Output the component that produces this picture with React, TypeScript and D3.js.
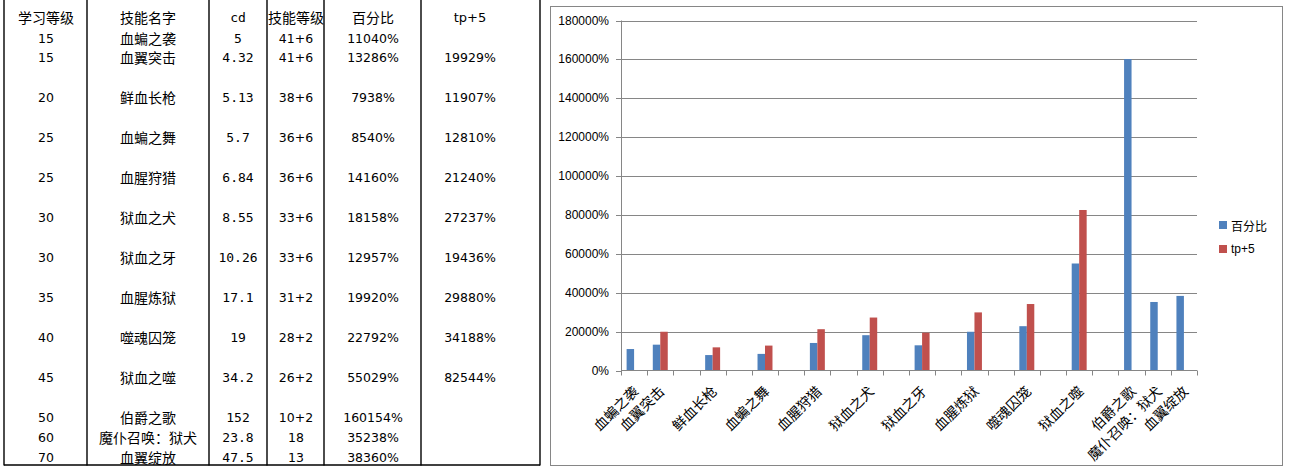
import React from "react";
import * as d3 from "d3";

// ---- table data ----
const tableHeaders = ["学习等级", "技能名字", "cd", "技能等级", "百分比", "tp+5"];
const learnLevels = ["15", "15", "", "20", "", "25", "", "25", "", "30", "", "30", "", "35", "", "40", "", "45", "", "50", "60", "70"];
const skillNames = ["血蝙之袭", "血翼突击", "", "鲜血长枪", "", "血蝙之舞", "", "血腥狩猎", "", "狱血之犬", "", "狱血之牙", "", "血腥炼狱", "", "噬魂囚笼", "", "狱血之噬", "", "伯爵之歌", "魔仆召唤：狱犬", "血翼绽放"];
const cdValues = ["5", "4.32", "", "5.13", "", "5.7", "", "6.84", "", "8.55", "", "10.26", "", "17.1", "", "19", "", "34.2", "", "152", "23.8", "47.5"];
const skillLevels = ["41+6", "41+6", "", "38+6", "", "36+6", "", "36+6", "", "33+6", "", "33+6", "", "31+2", "", "28+2", "", "26+2", "", "10+2", "18", "13"];

// ---- chart series (null = empty) ----
const seriesNames = ["百分比", "tp+5"];
const percentValues: (number | null)[] = [11040, 13286, null, 7938, null, 8540, null, 14160, null, 18158, null, 12957, null, 19920, null, 22792, null, 55029, null, 160154, 35238, 38360];
const tpValues: (number | null)[] = [null, 19929, null, 11907, null, 12810, null, 21240, null, 27237, null, 19436, null, 29880, null, 34188, null, 82544, null, null, null, null];
const yTicks = [0, 20000, 40000, 60000, 80000, 100000, 120000, 140000, 160000, 180000];

const colors = ["#4F81BD", "#C0504D"];
const CJK = "'Noto Sans CJK SC', sans-serif";
const NUM = "'DejaVu Sans', sans-serif";
const MONO = "'DejaVu Sans Mono', monospace";

export default function App() {
  // table geometry
  const colLines = [4, 87, 209, 267, 324, 421, 540];
  const colCenters = [46, 148, 238, 296, 373, 470];
  const headerY = 17;
  const rowY = (i: number) => (i === 0 ? 38 : 57 + (i - 1) * 20);
  const fmtPct = (v: number | null) => (v == null ? "" : v + "%");

  // chart geometry
  const plotLeft = 621, plotRight = 1197, plotTop = 20.5, plotBottom = 370.5;
  const idx = skillNames.map((_, i) => i);
  const x = d3.scaleBand<number>().domain(idx).range([plotLeft, plotRight]).padding(0);
  const xs = d3.scaleBand<number>().domain([0, 1]).range([0, x.bandwidth()]).paddingInner(0).paddingOuter(0.75);
  const y = d3.scaleLinear().domain([0, 180000]).range([plotBottom, plotTop]);
  const series = [percentValues, tpValues];
  const tickXs = idx.map((i) => x(i)!).concat([plotRight]);

  return (
    <svg width={1290} height={475} style={{ position: "absolute", left: 0, top: 0, background: "#fff" }}>
      <rect x={0} y={0} width={1290} height={475} fill="#fff" />
      {/* ---------- table ---------- */}
      <g>
        {colLines.map((cx, i) => (
          <line key={"v" + i} x1={cx} x2={cx} y1={0} y2={465.5} stroke="#000" strokeWidth={1.4} />
        ))}
        <line x1={4} x2={540} y1={465} y2={465} stroke="#000" strokeWidth={1.4} />
        {tableHeaders.map((h, i) => (
          <text key={"h" + i} x={colCenters[i]} y={headerY} textAnchor="middle" dominantBaseline="central"
            fontFamily={i === 2 ? MONO : i === 5 ? NUM : CJK} fontSize={i === 2 || i === 5 ? 13 : 14} fill="#000">{h}</text>
        ))}
        {skillNames.map((_, r) => {
          const yy = rowY(r);
          const cells = [learnLevels[r], skillNames[r], cdValues[r], skillLevels[r], fmtPct(percentValues[r]), fmtPct(tpValues[r])];
          return cells.map((c, ci) =>
            c === "" ? null : (
              <text key={r + "-" + ci} x={colCenters[ci]} y={yy} textAnchor="middle" dominantBaseline="central"
                fontFamily={ci === 1 ? CJK : ci === 2 ? MONO : NUM} fontSize={ci === 1 ? 14 : ci === 2 ? 13 : 12.5} fill="#000">{c}</text>
            )
          );
        })}
      </g>

      {/* ---------- chart ---------- */}
      <rect x={550.5} y={6.5} width={732} height={459} fill="#fff" stroke="#868686" strokeWidth={1} />
      {/* gridlines */}
      {yTicks.map((t) => (
        <g key={"g" + t}>
          {t !== 0 && <line x1={plotLeft} x2={plotRight} y1={Math.round(y(t)) + 0.5} y2={Math.round(y(t)) + 0.5} stroke="#868686" strokeWidth={1} />}
          <line x1={plotLeft - 5} x2={plotLeft} y1={Math.round(y(t)) + 0.5} y2={Math.round(y(t)) + 0.5} stroke="#868686" strokeWidth={1} />
          <text x={609} y={y(t)} textAnchor="end" dominantBaseline="central" fontFamily="'Liberation Sans', Arial, sans-serif" fontSize={12} fill="#000">{t + "%"}</text>
        </g>
      ))}
      {/* bars */}
      {series.map((vals, si) =>
        vals.map((v, i) =>
          v == null ? null : (
            <rect key={si + "-" + i} x={x(i)! + xs(si)!} y={y(v)} width={xs.bandwidth()} height={y(0) - y(v)} fill={colors[si]} />
          )
        )
      )}
      {/* axes */}
      <line x1={plotLeft + 0.5} x2={plotLeft + 0.5} y1={plotTop} y2={plotBottom} stroke="#868686" strokeWidth={1} />
      <line x1={plotLeft} x2={plotRight} y1={plotBottom} y2={plotBottom} stroke="#868686" strokeWidth={1} />
      {tickXs.map((tx, i) => (
        <line key={"t" + i} x1={Math.round(tx) + 0.5} x2={Math.round(tx) + 0.5} y1={plotBottom} y2={plotBottom + 5} stroke="#868686" strokeWidth={1} />
      ))}
      {/* category labels */}
      {skillNames.map((n, i) => {
        if (!n) return null;
        const cx = x(i)! + x.bandwidth() / 2 + 1;
        const ly = 388;
        return (
          <text key={"l" + i} x={cx} y={ly} textAnchor="end" dominantBaseline="central"
            transform={`rotate(-45, ${cx}, ${ly})`} fontFamily={CJK} fontSize={14} fill="#000">{n}</text>
        );
      })}
      {/* legend */}
      {seriesNames.map((s, i) => (
        <g key={"lg" + i} transform={`translate(1219, ${221 + i * 24})`}>
          <rect x={0} y={0} width={8} height={8} fill={colors[i]} />
          <text x={12} y={4} dominantBaseline="central" fontFamily={i === 0 ? CJK : "'Liberation Sans', Arial, sans-serif"} fontSize={12} fill="#000">{s}</text>
        </g>
      ))}
    </svg>
  );
}
